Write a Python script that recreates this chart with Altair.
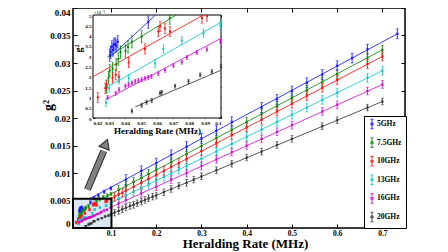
import altair as alt
import pandas as pd

# ---------------- data ----------------
SERIES = ["5GHz", "7.5GHz", "10GHz", "13GHz", "16GHz", "20GHz"]
COLORS = ["#1a1aff", "#0f8a0f", "#ff1414", "#14c8c8", "#d214d2", "#3a3a3a"]

X_5 = [0.0305, 0.031, 0.0318, 0.0325, 0.033, 0.0338, 0.0345, 0.0355, 0.0545, 0.063, 0.072, 0.085,
       0.1, 0.133, 0.167, 0.2, 0.233, 0.267, 0.3, 0.333, 0.367, 0.433, 0.467, 0.5, 0.533, 0.567,
       0.6, 0.633, 0.667, 0.733]
G_5 = [0.00305, 0.0032, 0.00345, 0.0033, 0.00355, 0.0036, 0.0035, 0.0037, 0.00465, 0.0054, 0.0059, 0.0066,
       0.0072, 0.0088, 0.0104, 0.0118, 0.0133, 0.0148, 0.0163, 0.0177, 0.0193, 0.0219, 0.0234, 0.0249,
       0.0264, 0.0279, 0.0295, 0.0309, 0.0325, 0.0353]

X_75 = [0.0285, 0.0297, 0.0305, 0.0322, 0.0345, 0.0358, 0.0372, 0.0403, 0.0419, 0.0443, 0.0504, 0.068,
        0.075, 0.083, 0.092, 0.1, 0.117, 0.133, 0.15, 0.167, 0.183, 0.2, 0.233, 0.267, 0.3, 0.333,
        0.367, 0.4, 0.433, 0.467, 0.5, 0.533, 0.567, 0.6, 0.667, 0.7]
G_75 = [0.0015, 0.00195, 0.0023, 0.0024, 0.0026, 0.00286, 0.0032, 0.00325, 0.00345, 0.0037, 0.00395,
        0.00485, 0.0052, 0.0056, 0.0059, 0.0062, 0.0070, 0.0077, 0.0084, 0.0091, 0.0098, 0.0106,
        0.0120, 0.0135, 0.0149, 0.0164, 0.0179, 0.0193, 0.0208, 0.0222, 0.0237, 0.0251, 0.0266,
        0.0280, 0.0310, 0.0324]

X_10 = [0.023, 0.0277, 0.0285, 0.0322, 0.0342, 0.0362, 0.0423, 0.0525, 0.0608, 0.0619, 0.065, 0.0681,
        0.0881, 0.0912, 0.1, 0.108, 0.117, 0.125, 0.133, 0.15, 0.167, 0.183, 0.2, 0.217, 0.233, 0.25,
        0.267, 0.3, 0.333, 0.367, 0.4, 0.433, 0.467, 0.5, 0.533, 0.567, 0.6, 0.667, 0.7]
G_10 = [0.001, 0.00145, 0.0016, 0.00195, 0.0021, 0.002, 0.0027, 0.00335, 0.0042, 0.00445, 0.00435,
        0.0042, 0.00485, 0.00495, 0.0053, 0.0057, 0.0061, 0.0064, 0.0068, 0.0075, 0.0082, 0.0089,
        0.0096, 0.0104, 0.0111, 0.0118, 0.0125, 0.0140, 0.0154, 0.0169, 0.0183, 0.0197, 0.0212,
        0.0226, 0.0240, 0.0255, 0.0269, 0.0298, 0.0312]

X_13 = [0.0281, 0.0301, 0.0362, 0.0423, 0.0588, 0.064, 0.0755, 0.0891, 0.0996, 0.117, 0.133, 0.15,
        0.167, 0.183, 0.2, 0.217, 0.233, 0.25, 0.267, 0.3, 0.333, 0.367, 0.4, 0.433, 0.467, 0.5,
        0.533, 0.567, 0.6, 0.667, 0.7]
G_13 = [0.00075, 0.00145, 0.00185, 0.00193, 0.00265, 0.00335, 0.00375, 0.00412, 0.0045, 0.0053,
        0.0059, 0.0066, 0.0073, 0.0079, 0.0086, 0.0093, 0.0099, 0.0106, 0.0113, 0.0126, 0.0139,
        0.0153, 0.0166, 0.0179, 0.0193, 0.0206, 0.0219, 0.0233, 0.0246, 0.0273, 0.0286]

X_16 = [0.0291, 0.0342, 0.0362, 0.0403, 0.0423, 0.0443, 0.0464, 0.0484, 0.0504, 0.0525, 0.0545,
        0.0565, 0.0608, 0.065, 0.0703, 0.0755, 0.0787, 0.0849, 0.0912, 0.0996, 0.117, 0.133, 0.167,
        0.2, 0.233, 0.267, 0.3, 0.333, 0.367, 0.4, 0.433, 0.467, 0.5, 0.567, 0.6, 0.667, 0.7]
G_16 = [0.001, 0.0012, 0.00138, 0.00155, 0.00162, 0.0017, 0.00178, 0.00182, 0.00186, 0.00193,
        0.00197, 0.00202, 0.00216, 0.00232, 0.00255, 0.00271, 0.00294, 0.00318, 0.00333, 0.00372,
        0.0045, 0.0051, 0.0063, 0.0075, 0.0088, 0.0100, 0.0113, 0.0125, 0.0138, 0.0150, 0.0162,
        0.0175, 0.0187, 0.0212, 0.0224, 0.0249, 0.0261]

X_20 = [0.0443, 0.0504, 0.0535, 0.0567, 0.0619, 0.063, 0.0713, 0.0797, 0.087, 0.0943, 0.1, 0.108,
        0.117, 0.125, 0.133, 0.142, 0.15, 0.158, 0.167, 0.175, 0.183, 0.192, 0.2, 0.217, 0.233, 0.25,
        0.267, 0.283, 0.3, 0.333, 0.367, 0.4, 0.433, 0.467, 0.5, 0.567, 0.6, 0.667, 0.7]
G_20 = [0.00034, 0.00062, 0.00077, 0.00085, 0.00121, 0.00125, 0.00155, 0.00178, 0.00209, 0.00225,
        0.0025, 0.0028, 0.0031, 0.0034, 0.0037, 0.0040, 0.0042, 0.0045, 0.0048, 0.0051, 0.0054,
        0.0057, 0.0059, 0.0065, 0.0071, 0.0077, 0.0082, 0.0088, 0.0094, 0.0105, 0.0117, 0.0128,
        0.0139, 0.0151, 0.0162, 0.0185, 0.0196, 0.0219, 0.0230]

ERR_LOW = [0.0003, 0.0003, 0.00025, 0.0002, 0.0001, 0.0001]     # x <= 0.1
ERR_HIGH = [0.0009, 0.0008, 0.0008, 0.0008, 0.0007, 0.0006]    # x > 0.1

# linear fits shown in the main plot (end points)
MAIN_FIT_X0 = [0.025, 0.025, 0.02, 0.025, 0.025, 0.04]
MAIN_FIT_Y0 = [0.0041, 0.0029, 0.0019, 0.0016, 0.0010, 0.0005]
MAIN_FIT_X1 = [0.733, 0.7, 0.7, 0.7, 0.7, 0.7]
MAIN_FIT_Y1 = [0.0353, 0.0324, 0.0312, 0.0286, 0.0261, 0.0230]

# linear fits shown in the inset (end points, g2 in units of 1e-3)
INSET_FIT_X0 = [0.0305, 0.029, 0.02, 0.0301, 0.0291, 0.0464]
INSET_FIT_Y0 = [2.94, 2.95, 2.01, 1.55, 0.93, 0.54]
INSET_FIT_X1 = [0.059, 0.072, 0.0889, 0.1, 0.1, 0.1]
INSET_FIT_Y1 = [5.0, 5.0, 5.0, 4.65, 3.87, 2.32]

X_DOMAIN = [0.016, 0.75]
Y_DOMAIN = [0.0, 0.04]
BOX_X = [0.016, 0.101]
BOX_Y = [0.0, 0.0053]
ARROW_X = [0.048, 0.084]
ARROW_Y = [0.0070, 0.0140]
HEAD_X = [0.0885]
HEAD_Y = [0.0153]

X_TICKS = [0.1, 0.2, 0.3, 0.4, 0.5, 0.6, 0.7]
Y_TICKS = [0, 0.005, 0.01, 0.015, 0.02, 0.025, 0.03, 0.035, 0.04]
IX_TICKS = [0.02, 0.03, 0.04, 0.05, 0.06, 0.07, 0.08, 0.09, 0.1]
IY_TICKS = [0, 0.5, 1, 1.5, 2, 2.5, 3, 3.5, 4, 4.5, 5]

# ---------------- layout ----------------
W, H = 332, 220
FONT = "Liberation Serif, Times New Roman, DejaVu Serif, serif"
IN_X = [20, 148]      # inset plot, pixels inside the main view
IN_Y = [110, 7]

XS_ALL = [X_5, X_75, X_10, X_13, X_16, X_20]
GS_ALL = [G_5, G_75, G_10, G_13, G_16, G_20]

rows = []
for i, s in enumerate(SERIES):
    for x, g in zip(XS_ALL[i], GS_ALL[i]):
        e = ERR_LOW[i] if x <= 0.1 else ERR_HIGH[i]
        rows.append(dict(series=s, x=x, g=g, lo=g - e, hi=g + e,
                         gi=g * 1000, loi=(g - e) * 1000, hii=(g + e) * 1000))
data = pd.DataFrame(rows)

fit_rows = []
for i, s in enumerate(SERIES):
    fit_rows.append(dict(series=s, x=MAIN_FIT_X0[i], g=MAIN_FIT_Y0[i]))
    fit_rows.append(dict(series=s, x=MAIN_FIT_X1[i], g=MAIN_FIT_Y1[i]))
fit_df = pd.DataFrame(fit_rows)

ifit_rows = []
for i, s in enumerate(SERIES):
    ifit_rows.append(dict(series=s, x=INSET_FIT_X0[i], g=INSET_FIT_Y0[i]))
    ifit_rows.append(dict(series=s, x=INSET_FIT_X1[i], g=INSET_FIT_Y1[i]))
ifit_df = pd.DataFrame(ifit_rows)

box_df = pd.DataFrame({"x0": [BOX_X[0]], "x1": [BOX_X[1]], "y0": [BOX_Y[0]], "y1": [BOX_Y[1]]})
frame_df = pd.DataFrame({"x0": [X_DOMAIN[0]], "x1": [X_DOMAIN[1]], "y0": [Y_DOMAIN[0]], "y1": [Y_DOMAIN[1]]})
arrow_df = pd.DataFrame({"x": ARROW_X, "y": ARROW_Y, "o": [0, 1]})
head_df = pd.DataFrame({"x": HEAD_X, "y": HEAD_Y})
iframe_df = pd.DataFrame({"x0": [IX_TICKS[0]], "x1": [IX_TICKS[-1]], "y0": [IY_TICKS[0]], "y1": [IY_TICKS[-1]]})
exp_df = pd.DataFrame({"x": [IX_TICKS[0]], "y": [IY_TICKS[-1]], "t": ["×10⁻³"]})

XS = alt.Scale(domain=X_DOMAIN, nice=False, zero=False)
YS = alt.Scale(domain=Y_DOMAIN, nice=False, zero=False)
XI = alt.Scale(domain=[0.02, 0.1], range=IN_X, nice=False, zero=False)
YI = alt.Scale(domain=[0, 5], range=IN_Y, nice=False, zero=False, clamp=True)
CS = alt.Scale(domain=SERIES, range=COLORS)

LEG_PATH = "M0,-1.6L0,1.6M-0.5,-1.6L0.5,-1.6M-0.5,1.6L0.5,1.6M-0.35,-0.25L0.35,-0.25L0.35,0.25L-0.35,0.25Z"
LEGEND = alt.Legend(title=None, orient="none", legendX=291, legendY=108,
                    symbolType=LEG_PATH, symbolSize=36, symbolStrokeWidth=1.1,
                    labelFont=FONT, labelFontWeight="bold", labelFontSize=7.5, labelColor="black",
                    labelOffset=1, rowPadding=3.6, padding=4, strokeColor="black", fillColor="white")


def col():
    return alt.Color("series:N", scale=CS, legend=LEGEND)


def tick_axis(orient, values, offset, size=4):
    return alt.Axis(orient=orient, values=values, labels=False, domain=False, grid=False,
                    ticks=True, tickSize=size, tickColor="black", tickWidth=1,
                    offset=offset, title=None)


# ---------------- main plot ----------------
box_fill = alt.Chart(box_df).mark_rect(fill="#dce6f2").encode(
    x=alt.X("x0:Q", scale=XS, axis=alt.Axis(
        orient="bottom", values=X_TICKS, format="~g", ticks=False, domain=False, grid=False,
        labelFont=FONT, labelFontWeight="bold", labelFontSize=7.5, labelPadding=1,
        title="Heralding Rate (MHz)", titleFont=FONT, titleFontWeight="bold", titleFontSize=13,
        titlePadding=1, titleX=172)),
    x2="x1",
    y=alt.Y("y0:Q", scale=YS, axis=alt.Axis(
        orient="left", values=Y_TICKS, format="~g", ticks=False, domain=False, grid=False,
        labelFont=FONT, labelFontWeight="bold", labelFontSize=9, labelPadding=3, labelFlush=True,
        title="g²", titleFont=FONT, titleFontWeight="bold", titleFontSize=14,
        titleX=-18, titleY=97)),
    y2="y1",
)

fits = alt.Chart(fit_df).mark_line(strokeWidth=1, opacity=0.85).encode(
    x=alt.X("x:Q", scale=XS, axis=None), y=alt.Y("g:Q", scale=YS, axis=None),
    color=col(), detail="series:N")

bars = alt.Chart(data).mark_rule(strokeWidth=0.9).encode(
    x=alt.X("x:Q", scale=XS, axis=None), y=alt.Y("lo:Q", scale=YS, axis=None), y2="hi",
    color=col())

cap_lo = alt.Chart(data).mark_tick(orient="horizontal", size=3, thickness=0.8).encode(
    x=alt.X("x:Q", scale=XS, axis=None), y=alt.Y("lo:Q", scale=YS, axis=None), color=col())
cap_hi = alt.Chart(data).mark_tick(orient="horizontal", size=3, thickness=0.8).encode(
    x=alt.X("x:Q", scale=XS, axis=None), y=alt.Y("hi:Q", scale=YS, axis=None), color=col())

pts = alt.Chart(data).mark_square(size=5, opacity=1).encode(
    x=alt.X("x:Q", scale=XS, axis=None), y=alt.Y("g:Q", scale=YS, axis=None), color=col())

box_stroke = alt.Chart(box_df).mark_rect(fill=None, stroke="black", strokeWidth=2).encode(
    x=alt.X("x0:Q", scale=XS, axis=None), x2="x1",
    y=alt.Y("y0:Q", scale=YS, axis=None), y2="y1")

frame = alt.Chart(frame_df).mark_rect(fill=None, stroke="black", strokeWidth=1.5).encode(
    x=alt.X("x0:Q", scale=XS, axis=None), x2="x1",
    y=alt.Y("y0:Q", scale=YS, axis=None), y2="y1")

arrow_out = alt.Chart(arrow_df).mark_line(color="#222222", strokeWidth=7, strokeCap="butt").encode(
    x=alt.X("x:Q", scale=XS, axis=None), y=alt.Y("y:Q", scale=YS, axis=None), order="o:Q")
arrow_in = alt.Chart(arrow_df).mark_line(color="#808080", strokeWidth=5, strokeCap="butt").encode(
    x=alt.X("x:Q", scale=XS, axis=None), y=alt.Y("y:Q", scale=YS, axis=None), order="o:Q")
arrow_head = alt.Chart(head_df).mark_point(shape="triangle-up", size=120, filled=True,
                                           fill="#808080", stroke="#222222", strokeWidth=1,
                                           opacity=1, angle=21).encode(
    x=alt.X("x:Q", scale=XS, axis=None), y=alt.Y("y:Q", scale=YS, axis=None))

carA = alt.Chart(box_df).mark_point(opacity=0).encode(
    x=alt.X("x0:Q", scale=XS, axis=tick_axis("top", X_TICKS, -H)),
    y=alt.Y("y0:Q", scale=YS, axis=tick_axis("right", Y_TICKS, -W)))
carB = alt.Chart(box_df).mark_point(opacity=0).encode(
    x=alt.X("x0:Q", scale=XS, axis=tick_axis("bottom", X_TICKS, -H)),
    y=alt.Y("y0:Q", scale=YS, axis=tick_axis("left", Y_TICKS, -W)))

main = alt.layer(fits, box_fill, carA, carB, bars, cap_lo, cap_hi, pts, box_stroke, frame,
                 arrow_out, arrow_in, arrow_head).resolve_axis(x="independent", y="independent")

# ---------------- inset ----------------
idata = alt.Chart(data).transform_filter("datum.x <= 0.1001 && datum.g <= 0.005")

iframe = alt.Chart(iframe_df).mark_rect(fill="white", stroke="black", strokeWidth=1).encode(
    x=alt.X("x0:Q", scale=XI, axis=alt.Axis(
        orient="bottom", values=IX_TICKS, format="~g", ticks=False, domain=False, grid=False,
        labelFont=FONT, labelFontWeight="bold", labelFontSize=5, labelPadding=2,
        offset=IN_Y[0] - H, title="Heralding Rate (MHz)", titleFont=FONT,
        titleFontWeight="bold", titleFontSize=9, titlePadding=1)),
    x2="x1",
    y=alt.Y("y0:Q", scale=YI, axis=alt.Axis(
        orient="left", values=IY_TICKS, format="~g", ticks=False, domain=False, grid=False,
        labelFont=FONT, labelFontWeight="bold", labelFontSize=5, labelPadding=2,
        offset=-IN_X[0], title="g²", titleFont=FONT, titleFontWeight="bold", titleFontSize=10,
        titlePadding=1, titleY=40)),
    y2="y1")

icarA = alt.Chart(iframe_df).mark_point(opacity=0).encode(
    x=alt.X("x0:Q", scale=XI, axis=tick_axis("top", IX_TICKS, -IN_Y[0], 2)),
    y=alt.Y("y0:Q", scale=YI, axis=tick_axis("right", IY_TICKS, IN_X[0] - W, 2)))
icarB = alt.Chart(iframe_df).mark_point(opacity=0).encode(
    x=alt.X("x0:Q", scale=XI, axis=tick_axis("bottom", IX_TICKS, IN_Y[1] - H, 2)),
    y=alt.Y("y0:Q", scale=YI, axis=tick_axis("left", IY_TICKS, -IN_X[1], 2)))

ifits = alt.Chart(ifit_df).mark_line(strokeWidth=1, opacity=0.85).encode(
    x=alt.X("x:Q", scale=XI, axis=None), y=alt.Y("g:Q", scale=YI, axis=None),
    color=col(), detail="series:N")
ibars = idata.mark_rule(strokeWidth=0.9).encode(
    x=alt.X("x:Q", scale=XI, axis=None), y=alt.Y("loi:Q", scale=YI, axis=None), y2="hii",
    color=col())
icap_lo = idata.mark_tick(orient="horizontal", size=2.5, thickness=0.7).encode(
    x=alt.X("x:Q", scale=XI, axis=None), y=alt.Y("loi:Q", scale=YI, axis=None), color=col())
icap_hi = idata.mark_tick(orient="horizontal", size=2.5, thickness=0.7).encode(
    x=alt.X("x:Q", scale=XI, axis=None), y=alt.Y("hii:Q", scale=YI, axis=None), color=col())
ipts = idata.mark_square(size=4, opacity=1).encode(
    x=alt.X("x:Q", scale=XI, axis=None), y=alt.Y("gi:Q", scale=YI, axis=None), color=col())
iexp = alt.Chart(exp_df).mark_text(font=FONT, fontSize=4.5, align="left", baseline="bottom",
                                   dx=1, dy=-0.5, color="black").encode(
    x=alt.X("x:Q", scale=XI, axis=None), y=alt.Y("y:Q", scale=YI, axis=None), text="t:N")

inset = alt.layer(iframe, icarA, icarB, ifits, ibars, icap_lo, icap_hi, ipts, iexp
                  ).resolve_axis(x="independent", y="independent")

chart = alt.layer(main, inset).resolve_scale(x="independent", y="independent").properties(
    width=W, height=H,
    autosize=alt.AutoSizeParams(type="none"),
    padding={"left": 65, "top": 0, "right": 35, "bottom": 24},
).configure_view(stroke=None).configure_axis(
    labelFont=FONT, titleFont=FONT, labelFontWeight="bold", titleFontWeight="bold",
    labelColor="black", titleColor="black", grid=False,
).configure(background="white")

chart.save("out.html", embed_options={"renderer": "svg", "actions": False})
